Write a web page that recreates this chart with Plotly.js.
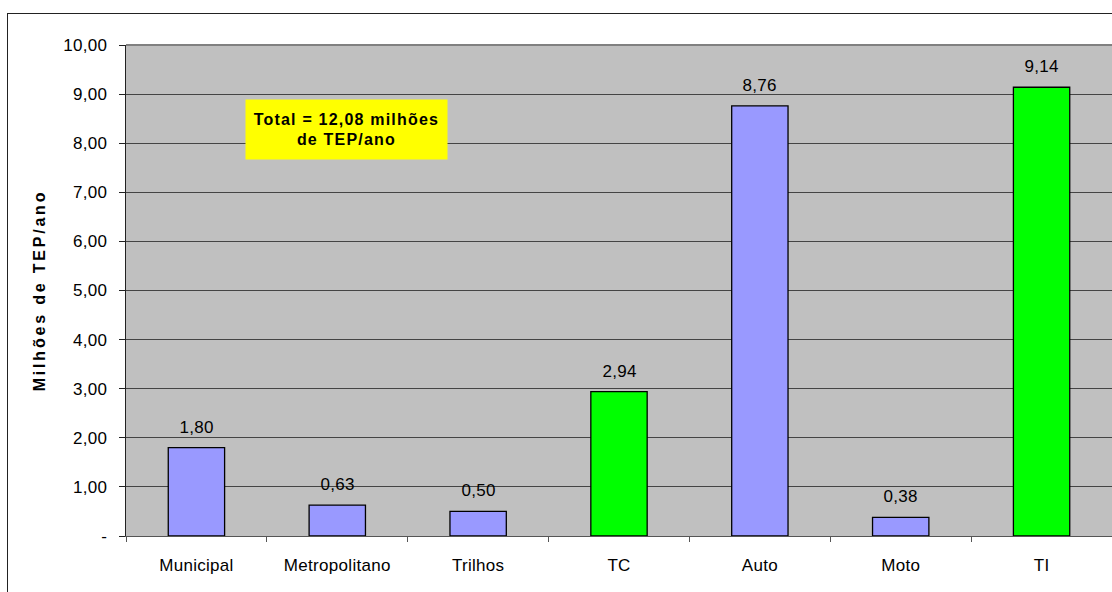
<!DOCTYPE html>
<html><head><meta charset="utf-8">
<script src="https://cdn.plot.ly/plotly-3.0.1.min.js"></script>
<style>
html,body{margin:0;padding:0;background:#fff;}
#wrap{position:relative;width:1112px;height:592px;overflow:hidden;}
#chart{width:1112px;height:592px;}
#frame{position:absolute;left:7px;top:13px;width:1200px;height:700px;border-left:1.5px solid #222;border-top:1.5px solid #222;pointer-events:none;}
#chart text{letter-spacing:0.3px;}
#chart .ytitle{letter-spacing:2.8px !important;}
#chart .annotation[data-index="7"] text{letter-spacing:1.2px !important;}
</style></head>
<body>
<div id="wrap"><div id="chart"></div><div id="frame"></div></div>
<script>
const categories = ["Municipal","Metropolitano","Trilhos","TC","Auto","Moto","TI"];
const values = [1.80, 0.63, 0.50, 2.94, 8.76, 0.38, 9.14];
const barColors = ["#9999FF","#9999FF","#9999FF","#00FF00","#9999FF","#9999FF","#00FF00"];
const yTickVals = [0,1,2,3,4,5,6,7,8,9,10];
const yTickText = ["-","1,00","2,00","3,00","4,00","5,00","6,00","7,00","8,00","9,00","10,00"];
const yTitle = "Milhões de TEP/ano";
const totalNote = "Total = 12,08 milhões<br>de TEP/ano";

function fmt(v){ return v.toFixed(2).replace('.', ','); }

const trace = {
  type: 'bar', x: categories, y: values,
  marker: {color: barColors, line: {color: '#000', width: 1.3}},
  width: 0.4, hoverinfo: 'none'
};

const FONT = 'Liberation Sans, Arial, sans-serif';
const anns = categories.map((c,i)=>({
  x: c, y: values[i], xref:'x', yref:'y', text: fmt(values[i]),
  showarrow:false, yanchor:'bottom', yshift: 9,
  font:{family:FONT, size:17, color:'#000'}
}));
anns.push({
  xref:'paper', yref:'paper', x:(346-126)/986, y:(536-129.5)/491,
  xanchor:'center', yanchor:'middle', text: totalNote, showarrow:false,
  bgcolor:'#FFFF00', width:195, height:53, borderpad:3,
  font:{family:FONT, size:16, color:'#000', weight:'bold'}
});

const layout = {
  width:1112, height:592,
  margin:{l:126, r:0, t:45, b:56},
  paper_bgcolor:'rgba(0,0,0,0)', plot_bgcolor:'#C0C0C0',
  showlegend:false,
  font:{family:FONT, size:17, color:'#000'},
  xaxis:{
    type:'category', tickson:'boundaries', ticks:'outside', ticklen:5, tickcolor:'#555',
    showline:true, linecolor:'#555', linewidth:1.3, showgrid:false,
    tickfont:{size:17}, range:[-0.5, 6.5], ticklabelstandoff:13
  },
  yaxis:{
    range:[0,10], tickvals:yTickVals, ticktext:yTickText,
    ticks:'outside', ticklen:6, tickcolor:'#222',
    showline:true, linecolor:'#222', linewidth:1.3,
    showgrid:true, gridcolor:'#444', gridwidth:1.1, zeroline:false,
    tickfont:{size:17}, ticklabelstandoff:8,
    title:{text:yTitle, font:{size:16, weight:'bold'}, standoff:15}
  },
  shapes:[{type:'line', xref:'paper', yref:'paper', x0:0, x1:1, y0:1, y1:1, line:{color:'#808080', width:2}}],
  annotations: anns
};

Plotly.newPlot('chart', [trace], layout, {staticPlot:true, displayModeBar:false});
</script>
</body></html>
